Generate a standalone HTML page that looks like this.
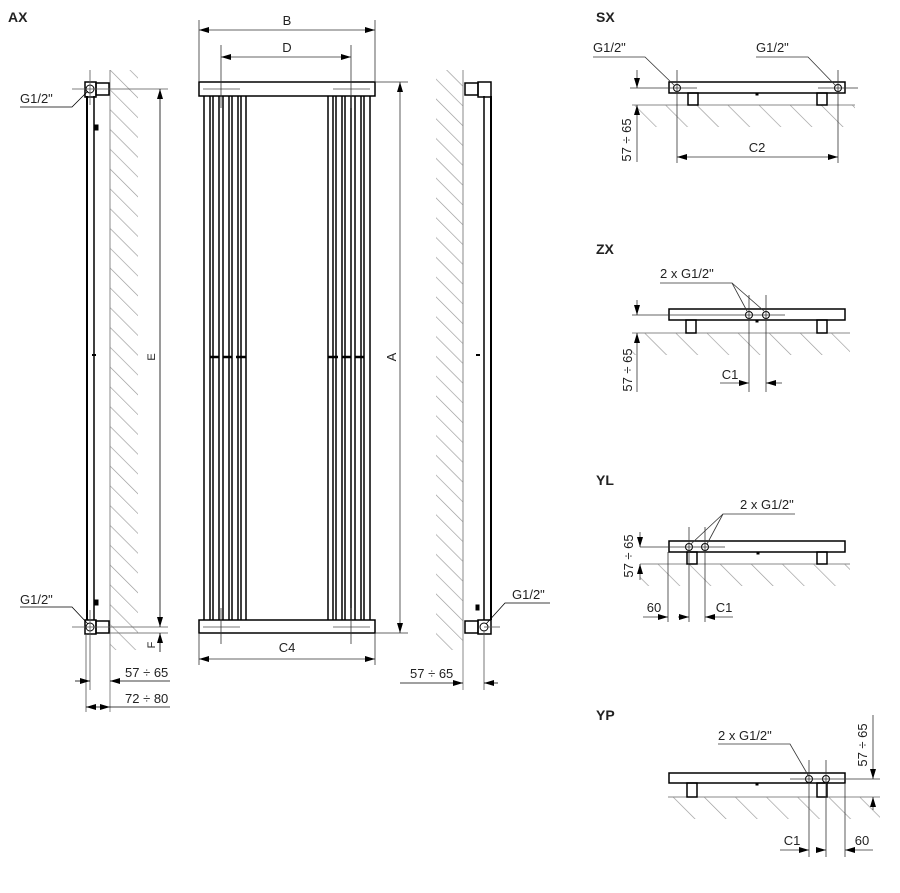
<!DOCTYPE html>
<html><head><meta charset="utf-8"><style>
html,body{margin:0;padding:0;background:#fff}
svg{display:block}
text{font-family:"Liberation Sans",sans-serif;font-size:13px;fill:#222}
.b{font-weight:bold;font-size:14px}
</style></head><body>
<svg width="900" height="893" viewBox="0 0 900 893" xmlns="http://www.w3.org/2000/svg">
<defs>
<marker id="a" viewBox="0 0 10 6" refX="10" refY="3" markerWidth="10" markerHeight="6" markerUnits="userSpaceOnUse" orient="auto-start-reverse"><path d="M0,0L10,3L0,6z" fill="#000"/></marker>
<pattern id="h" patternUnits="userSpaceOnUse" width="14" height="14" patternTransform="rotate(-45)"><line x1="0" y1="0" x2="0" y2="14" stroke="#999" stroke-width="1.3"/></pattern>
<pattern id="hf" patternUnits="userSpaceOnUse" width="22" height="22" patternTransform="rotate(-45)"><line x1="0" y1="0" x2="0" y2="22" stroke="#999" stroke-width="1.3"/></pattern>
</defs>
<g fill="none" stroke="#000" stroke-width="1">
<text x="8" y="22" class="b" stroke="none">AX</text>
<text x="596" y="22" class="b" stroke="none">SX</text>
<text x="596" y="254" class="b" stroke="none">ZX</text>
<text x="596" y="485" class="b" stroke="none">YL</text>
<text x="596" y="720" class="b" stroke="none">YP</text>

<!-- LEFT SIDE VIEW -->
<rect x="110" y="70" width="28" height="580" fill="url(#h)" stroke="none"/>
<line x1="110" y1="70" x2="110" y2="712" stroke="#888"/>
<line x1="87" y1="96" x2="87" y2="620" stroke-width="2"/>
<line x1="94" y1="96" x2="94" y2="620" stroke-width="1.5"/>
<rect x="85" y="82" width="11" height="15" stroke-width="1.5"/>
<circle cx="90" cy="89" r="4"/>
<rect x="96" y="83" width="13" height="12" stroke-width="1.5"/>
<rect x="95" y="125" width="3" height="5" fill="#000"/>
<rect x="85" y="620" width="11" height="14" stroke-width="1.5"/>
<circle cx="90" cy="627" r="4"/>
<rect x="96" y="621" width="13" height="12" stroke-width="1.5"/>
<rect x="95" y="600" width="3" height="5" fill="#000"/>
<line x1="92" y1="355" x2="96" y2="355" stroke-width="2"/>
<line x1="72" y1="89" x2="168" y2="89" stroke="#555" stroke-width="0.8"/>
<line x1="90" y1="70" x2="90" y2="105" stroke="#555" stroke-width="0.8"/>
<line x1="72" y1="627" x2="168" y2="627" stroke="#555" stroke-width="0.8"/>
<line x1="110" y1="633" x2="168" y2="633" stroke="#555" stroke-width="0.8"/>
<line x1="160" y1="89" x2="160" y2="627" marker-start="url(#a)" marker-end="url(#a)" stroke-width="0.8"/>
<text x="0" y="0" transform="translate(155,357) rotate(-90)" text-anchor="middle" stroke="none" style="font-size:11px">E</text>
<line x1="160" y1="633" x2="160" y2="652" marker-start="url(#a)" stroke-width="0.8"/>
<text transform="translate(155,645) rotate(-90)" text-anchor="middle" stroke="none" style="font-size:11px">F</text>
<line x1="90" y1="610" x2="90" y2="690" stroke="#555" stroke-width="0.8"/>
<line x1="86" y1="634" x2="86" y2="712" stroke="#555" stroke-width="0.8"/>
<line x1="75" y1="681" x2="90" y2="681" marker-end="url(#a)" stroke-width="0.8"/>
<line x1="110" y1="681" x2="170" y2="681" marker-start="url(#a)" stroke-width="0.8"/>
<text x="125" y="677" stroke="none">57 ÷ 65</text>
<line x1="86" y1="707" x2="110" y2="707" marker-start="url(#a)" marker-end="url(#a)" stroke-width="0.8"/>
<line x1="110" y1="707" x2="170" y2="707" stroke-width="0.8"/>
<text x="125" y="703" stroke="none">72 ÷ 80</text>
<text x="20" y="103" stroke="none">G1/2"</text>
<polyline points="20,107 72,107 88,91" stroke-width="0.8"/>
<text x="20" y="604" stroke="none">G1/2"</text>
<polyline points="20,607 72,607 88,624" stroke-width="0.8"/>

<!-- FRONT VIEW -->
<rect x="199" y="82" width="176" height="14" stroke-width="1.5"/>
<rect x="199" y="620" width="176" height="13" stroke-width="1.5"/>
<g stroke-width="1.5">
<line x1="204" y1="96" x2="204" y2="620"/><line x1="210" y1="96" x2="210" y2="620"/>
<line x1="213" y1="96" x2="213" y2="620"/><line x1="219" y1="96" x2="219" y2="620"/>
<line x1="223" y1="96" x2="223" y2="620"/><line x1="229" y1="96" x2="229" y2="620"/>
<line x1="232" y1="96" x2="232" y2="620"/><line x1="238" y1="96" x2="238" y2="620"/>
<line x1="241" y1="96" x2="241" y2="620"/><line x1="246" y1="96" x2="246" y2="620"/>
<line x1="328" y1="96" x2="328" y2="620"/><line x1="333" y1="96" x2="333" y2="620"/>
<line x1="336" y1="96" x2="336" y2="620"/><line x1="342" y1="96" x2="342" y2="620"/>
<line x1="345" y1="96" x2="345" y2="620"/><line x1="351" y1="96" x2="351" y2="620"/>
<line x1="355" y1="96" x2="355" y2="620"/><line x1="361" y1="96" x2="361" y2="620"/>
<line x1="364" y1="96" x2="364" y2="620"/><line x1="370" y1="96" x2="370" y2="620"/>
</g>
<g stroke-width="2.5">
<line x1="210" y1="357" x2="219" y2="357"/><line x1="223" y1="357" x2="232" y2="357"/><line x1="236" y1="357" x2="246" y2="357"/>
<line x1="328" y1="357" x2="338" y2="357"/><line x1="342" y1="357" x2="351" y2="357"/><line x1="355" y1="357" x2="364" y2="357"/>
</g>
<g stroke="#777" stroke-width="1">
<line x1="203" y1="89" x2="240" y2="89"/><line x1="333" y1="89" x2="370" y2="89"/>
<line x1="203" y1="627" x2="240" y2="627"/><line x1="333" y1="627" x2="370" y2="627"/>
</g>
<g stroke="#333" stroke-width="0.8">
<line x1="199" y1="20" x2="199" y2="82"/><line x1="375" y1="20" x2="375" y2="82"/>
<line x1="221" y1="45" x2="221" y2="108"/><line x1="351" y1="45" x2="351" y2="108"/>
<line x1="221" y1="608" x2="221" y2="644"/><line x1="351" y1="608" x2="351" y2="644"/>
<line x1="199" y1="633" x2="199" y2="665"/><line x1="375" y1="633" x2="375" y2="665"/>
<line x1="375" y1="82" x2="408" y2="82"/><line x1="375" y1="633" x2="408" y2="633"/>
<line x1="199" y1="30" x2="375" y2="30" marker-start="url(#a)" marker-end="url(#a)"/>
<line x1="221" y1="57" x2="351" y2="57" marker-start="url(#a)" marker-end="url(#a)"/>
<line x1="400" y1="82" x2="400" y2="633" marker-start="url(#a)" marker-end="url(#a)"/>
<line x1="199" y1="659" x2="375" y2="659" marker-start="url(#a)" marker-end="url(#a)"/>
</g>
<text x="287" y="25" text-anchor="middle" stroke="none">B</text>
<text x="287" y="52" text-anchor="middle" stroke="none">D</text>
<text x="287" y="652" text-anchor="middle" stroke="none">C4</text>
<text transform="translate(396,357) rotate(-90)" text-anchor="middle" stroke="none">A</text>

<!-- RIGHT SIDE VIEW -->
<rect x="436" y="70" width="27" height="580" fill="url(#h)" stroke="none"/>
<line x1="463" y1="70" x2="463" y2="690" stroke="#888"/>
<line x1="484" y1="96" x2="484" y2="620" stroke-width="1.5"/>
<line x1="491" y1="96" x2="491" y2="620" stroke-width="2"/>
<rect x="478" y="82" width="13" height="15" stroke-width="1.5"/>
<rect x="465" y="83" width="13" height="12" stroke-width="1.5"/>
<rect x="478" y="620" width="13" height="14" stroke-width="1.5"/>
<circle cx="484" cy="627" r="4"/>
<rect x="465" y="621" width="13" height="12" stroke-width="1.5"/>
<rect x="476" y="605" width="3" height="5" fill="#000"/>
<line x1="476" y1="355" x2="480" y2="355" stroke-width="2"/>
<line x1="484" y1="627" x2="500" y2="627" stroke="#555" stroke-width="0.8"/>
<line x1="484" y1="630" x2="484" y2="690" stroke="#555" stroke-width="0.8"/>
<line x1="400" y1="683" x2="463" y2="683" marker-end="url(#a)" stroke-width="0.8"/>
<line x1="484" y1="683" x2="498" y2="683" marker-start="url(#a)" stroke-width="0.8"/>
<text x="410" y="678" stroke="none">57 ÷ 65</text>
<text x="512" y="599" stroke="none">G1/2"</text>
<polyline points="550,603 505,603 486,624" stroke-width="0.8"/>

<!-- SX -->
<rect x="632" y="105" width="223" height="22" fill="url(#hf)" stroke="none"/>
<line x1="632" y1="105" x2="855" y2="105" stroke="#888"/>
<rect x="669" y="82" width="176" height="11" stroke-width="1.5"/>
<circle cx="677" cy="88" r="3.5"/><circle cx="838" cy="88" r="3.5"/>
<rect x="688" y="93" width="10" height="12" stroke-width="1.5"/>
<rect x="817" y="93" width="10" height="12" stroke-width="1.5"/>
<rect x="756" y="93" width="2" height="2" fill="#000"/>
<g stroke="#333" stroke-width="0.8">
<line x1="630" y1="88" x2="697" y2="88"/><line x1="818" y1="88" x2="858" y2="88"/>
<line x1="677" y1="70" x2="677" y2="163"/><line x1="838" y1="70" x2="838" y2="163"/>
<line x1="637" y1="70" x2="637" y2="88" marker-end="url(#a)"/>
<line x1="637" y1="105" x2="637" y2="162" marker-start="url(#a)"/>
<line x1="677" y1="157" x2="838" y2="157" marker-start="url(#a)" marker-end="url(#a)"/>
<polyline points="593,57 645,57 675,86"/><polyline points="756,57 808,57 836,86"/>
</g>
<text x="593" y="52" stroke="none">G1/2"</text>
<text x="756" y="52" stroke="none">G1/2"</text>
<text transform="translate(631,140) rotate(-90)" text-anchor="middle" stroke="none">57 ÷ 65</text>
<text x="757" y="152" text-anchor="middle" stroke="none">C2</text>

<!-- ZX -->
<rect x="632" y="333" width="218" height="22" fill="url(#hf)" stroke="none"/>
<line x1="632" y1="333" x2="850" y2="333" stroke="#888"/>
<rect x="669" y="309" width="176" height="11" stroke-width="1.5"/>
<circle cx="749" cy="315" r="3.5"/><circle cx="766" cy="315" r="3.5"/>
<rect x="686" y="320" width="10" height="13" stroke-width="1.5"/>
<rect x="817" y="320" width="10" height="13" stroke-width="1.5"/>
<rect x="756" y="320" width="2" height="2" fill="#000"/>
<g stroke="#333" stroke-width="0.8">
<line x1="632" y1="315" x2="785" y2="315"/>
<line x1="749" y1="295" x2="749" y2="392"/><line x1="766" y1="295" x2="766" y2="392"/>
<line x1="637" y1="300" x2="637" y2="315" marker-end="url(#a)"/>
<line x1="637" y1="333" x2="637" y2="392" marker-start="url(#a)"/>
<line x1="720" y1="383" x2="749" y2="383" marker-end="url(#a)"/>
<line x1="766" y1="383" x2="782" y2="383" marker-start="url(#a)"/>
<polyline points="660,283 732,283 747,311"/><line x1="732" y1="283" x2="764" y2="311"/>
</g>
<text x="660" y="278" stroke="none">2 x G1/2"</text>
<text transform="translate(632,370) rotate(-90)" text-anchor="middle" stroke="none">57 ÷ 65</text>
<text x="730" y="379" text-anchor="middle" stroke="none">C1</text>

<!-- YL -->
<rect x="640" y="564" width="210" height="22" fill="url(#hf)" stroke="none"/>
<line x1="640" y1="564" x2="850" y2="564" stroke="#888"/>
<rect x="669" y="541" width="176" height="11" stroke-width="1.5"/>
<circle cx="689" cy="547" r="3.5"/><circle cx="705" cy="547" r="3.5"/>
<rect x="687" y="552" width="10" height="12" stroke-width="1.5"/>
<rect x="817" y="552" width="10" height="12" stroke-width="1.5"/>
<rect x="757" y="552" width="2" height="2" fill="#000"/>
<g stroke="#333" stroke-width="0.8">
<line x1="640" y1="547" x2="725" y2="547"/>
<line x1="668" y1="552" x2="668" y2="622"/>
<line x1="689" y1="527" x2="689" y2="622"/><line x1="705" y1="527" x2="705" y2="622"/>
<line x1="640" y1="532" x2="640" y2="547" marker-end="url(#a)"/>
<line x1="640" y1="564" x2="640" y2="580" marker-start="url(#a)"/>
<line x1="643" y1="617" x2="668" y2="617" marker-end="url(#a)"/>
<line x1="678" y1="617" x2="689" y2="617" marker-end="url(#a)"/>
<line x1="705" y1="617" x2="733" y2="617" marker-start="url(#a)"/>
<polyline points="795,514 723,514 691,544"/><line x1="723" y1="514" x2="707" y2="544"/>
</g>
<text x="740" y="509" stroke="none">2 x G1/2"</text>
<text transform="translate(633,556) rotate(-90)" text-anchor="middle" stroke="none">57 ÷ 65</text>
<text x="654" y="612" text-anchor="middle" stroke="none">60</text>
<text x="724" y="612" text-anchor="middle" stroke="none">C1</text>

<!-- YP -->
<rect x="668" y="797" width="212" height="22" fill="url(#hf)" stroke="none"/>
<line x1="668" y1="797" x2="880" y2="797" stroke="#888"/>
<rect x="669" y="773" width="176" height="10" stroke-width="1.5"/>
<circle cx="809" cy="779" r="3.5"/><circle cx="826" cy="779" r="3.5"/>
<rect x="687" y="783" width="10" height="14" stroke-width="1.5"/>
<rect x="817" y="783" width="10" height="14" stroke-width="1.5"/>
<rect x="756" y="783" width="2" height="2" fill="#000"/>
<g stroke="#333" stroke-width="0.8">
<line x1="790" y1="779" x2="880" y2="779"/>
<line x1="809" y1="760" x2="809" y2="857"/><line x1="826" y1="760" x2="826" y2="857"/>
<line x1="845" y1="783" x2="845" y2="857"/>
<line x1="873" y1="715" x2="873" y2="779" marker-end="url(#a)"/>
<line x1="873" y1="797" x2="873" y2="810" marker-start="url(#a)"/>
<line x1="780" y1="850" x2="809" y2="850" marker-end="url(#a)"/>
<line x1="816" y1="850" x2="826" y2="850" marker-end="url(#a)"/>
<line x1="845" y1="850" x2="873" y2="850" marker-start="url(#a)"/>
<polyline points="718,744 790,744 808,775"/>
</g>
<text x="718" y="740" stroke="none">2 x G1/2"</text>
<text transform="translate(867,745) rotate(-90)" text-anchor="middle" stroke="none">57 ÷ 65</text>
<text x="792" y="845" text-anchor="middle" stroke="none">C1</text>
<text x="862" y="845" text-anchor="middle" stroke="none">60</text>
</g>
</svg>
</body></html>
